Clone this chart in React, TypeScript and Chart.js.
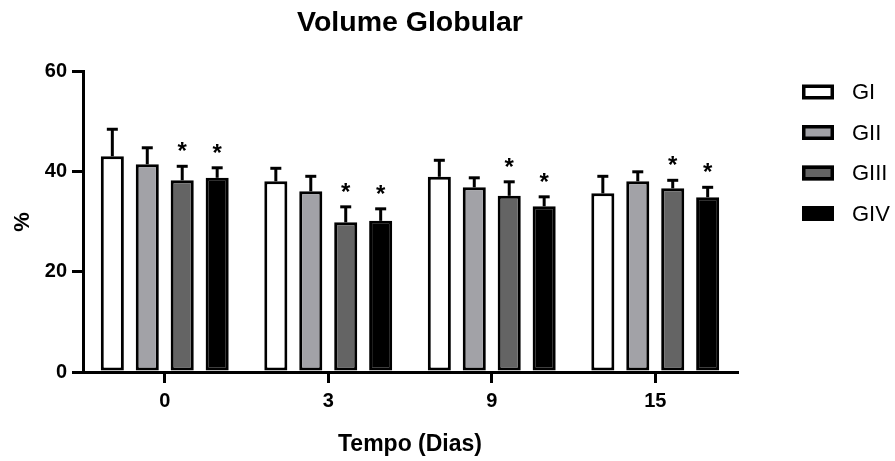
import React, { useEffect, useRef } from "react";
import { Chart, registerables } from "chart.js";

Chart.register(...registerables);

const categories = ["0", "3", "9", "15"];
const seriesLabels = ["GI", "GII", "GIII", "GIV"];
const gI = [43.1, 38.1, 39.0, 35.7];
const gII = [41.5, 36.1, 36.9, 38.1];
const gIII = [38.3, 29.9, 35.2, 36.7];
const gIV = [38.8, 30.2, 33.1, 34.9];
const gIsd = [5.4, 2.6, 3.3, 3.4];
const gIIsd = [3.3, 3.0, 1.9, 1.9];
const gIIIsd = [2.8, 3.1, 2.8, 1.6];
const gIVsd = [2.0, 2.4, 1.9, 2.0];
const gIstar = [false, false, false, false];
const gIIstar = [false, false, false, false];
const gIIIstar = [true, true, true, true];
const gIVstar = [true, true, true, true];
const yTicks = [0, 20, 40, 60];

const FONT = "'Liberation Sans', Arial, Helvetica, sans-serif";
const fills = ["#ffffff", "#a2a2a7", "#646464", "#000000"];

const errorBarPlugin = {
  id: "errorBars",
  afterDatasetsDraw(chart: any) {
    const ctx = chart.ctx;
    const yScale = chart.scales.y;
    chart.data.datasets.forEach((ds: any, i: number) => {
      const meta = chart.getDatasetMeta(i);
      meta.data.forEach((el: any, j: number) => {
        const v = ds.data[j];
        const sd = ds.sd[j];
        const yErr = yScale.getPixelForValue(v + sd);
        ctx.save();
        ctx.strokeStyle = "#000";
        ctx.lineWidth = 3;
        ctx.beginPath();
        ctx.moveTo(el.x, el.y);
        ctx.lineTo(el.x, yErr);
        ctx.stroke();
        ctx.beginPath();
        ctx.moveTo(el.x - 5.5, yErr);
        ctx.lineTo(el.x + 5.5, yErr);
        ctx.stroke();
        if (ds.stars[j]) {
          ctx.fillStyle = "#000";
          ctx.font = `bold 24px ${FONT}`;
          ctx.textAlign = "center";
          ctx.textBaseline = "alphabetic";
          ctx.fillText("*", el.x, yErr - 7);
        }
        ctx.restore();
      });
    });
  },
};

const legendPlugin = {
  id: "customLegend",
  afterDraw(chart: any) {
    const ctx = chart.ctx;
    chart.data.datasets.forEach((ds: any, i: number) => {
      const cy = 92 + i * 40.5;
      const x = 802;
      const w = 32;
      const h = 15;
      ctx.save();
      ctx.fillStyle = ds.backgroundColor;
      ctx.fillRect(x, cy - h / 2, w, h);
      ctx.strokeStyle = "#000";
      ctx.lineWidth = 3.5;
      ctx.strokeRect(x + 1.75, cy - h / 2 + 1.75, w - 3.5, h - 3.5);
      ctx.fillStyle = "#000";
      ctx.font = `22px ${FONT}`;
      ctx.textAlign = "left";
      ctx.textBaseline = "middle";
      ctx.fillText(ds.label, 852, cy + 1);
      ctx.restore();
    });
  },
};

export default function App() {
  const ref = useRef<HTMLCanvasElement>(null);
  useEffect(() => {
    if (!ref.current) return;
    Chart.defaults.font.family = FONT;
    const values = [gI, gII, gIII, gIV];
    const sds = [gIsd, gIIsd, gIIIsd, gIVsd];
    const stars = [gIstar, gIIstar, gIIIstar, gIVstar];
    const chart = new Chart(ref.current, {
      type: "bar",
      data: {
        labels: categories,
        datasets: seriesLabels.map((label, i) => ({
          label,
          data: values[i],
          sd: sds[i],
          stars: stars[i],
          backgroundColor: fills[i],
          borderColor: "#000",
          borderWidth: 3,
          borderSkipped: false,
          categoryPercentage: 0.855,
          barPercentage: 0.66,
        })) as any,
      },
      options: {
        responsive: false,
        animation: false,
        events: [],
        layout: { padding: { left: 0, right: 158, top: 0, bottom: 0 } },
        plugins: {
          legend: { display: false },
          tooltip: { enabled: false },
          title: {
            display: true,
            text: "Volume Globular",
            fullSize: false,
            color: "#000",
            font: { size: 28.5, weight: "bold", family: FONT },
            padding: { top: 6, bottom: 31.5 },
          },
        },
        scales: {
          x: {
            offset: true,
            grid: {
              offset: false,
              drawOnChartArea: false,
              drawTicks: true,
              tickLength: 11,
              lineWidth: 3,
              color: "#000",
            },
            border: { display: true, color: "#000", width: 3 },
            ticks: {
              color: "#000",
              font: { size: 20, weight: "bold", family: FONT },
              padding: 6,
            },
            title: {
              display: true,
              text: "Tempo (Dias)",
              color: "#000",
              font: { size: 23, weight: "bold", family: FONT },
              padding: { top: 0, bottom: 3 },
            },
            afterFit: (scale: any) => {
              scale.height = 89;
            },
          },
          y: {
            min: 0,
            max: 60,
            afterBuildTicks: (scale: any) => {
              scale.ticks = yTicks.map((v) => ({ value: v }));
            },
            grid: {
              drawOnChartArea: false,
              drawTicks: true,
              tickLength: 11,
              lineWidth: 3,
              color: "#000",
            },
            border: { display: true, color: "#000", width: 3 },
            ticks: {
              color: "#000",
              font: { size: 20, weight: "bold", family: FONT },
              padding: 5,
            },
            title: {
              display: true,
              text: "%",
              color: "#000",
              font: { size: 22, weight: "bold", family: FONT },
              padding: { top: 10, bottom: 0 },
            },
            afterFit: (scale: any) => {
              scale.width = 83;
            },
          },
        },
      },
      plugins: [errorBarPlugin, legendPlugin],
    } as any);
    return () => chart.destroy();
  }, []);
  return (
    <div style={{ position: "absolute", left: 0, top: 0, width: 895, height: 461, background: "#fff" }}>
      <canvas ref={ref} width={895} height={461} style={{ width: 895, height: 461, display: "block" }} />
    </div>
  );
}
